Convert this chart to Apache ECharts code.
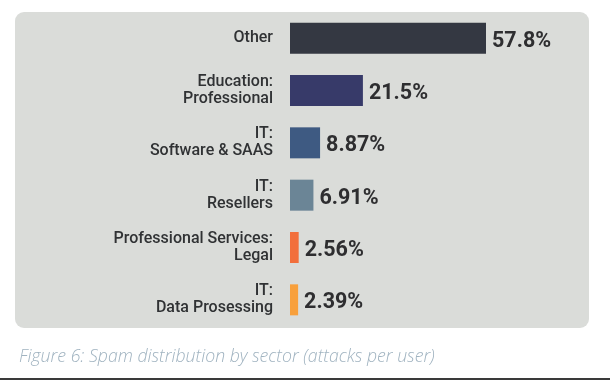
<!DOCTYPE html>
<html>
<head>
<meta charset="utf-8">
<script src="https://cdn.jsdelivr.net/npm/echarts@6/dist/echarts.min.js"></script>
<style>
html,body{margin:0;padding:0;background:#fff;}
#c{width:610px;height:380px;}
</style>
</head>
<body>
<div id="c"></div>
<script>
var categories = ["Other", "Education:\nProfessional", "IT:\nSoftware & SAAS", "IT:\nResellers", "Professional Services:\nLegal", "IT:\nData Prosessing"];
var values = [57.8, 21.5, 8.87, 6.91, 2.56, 2.39];
var valueLabels = ["57.8%", "21.5%", "8.87%", "6.91%", "2.56%", "2.39%"];
var barColors = ["#343842", "#373a69", "#3e5a82", "#6b8596", "#f26f3c", "#f8a03c"];
var caption = "Figure 6: Spam distribution by sector (attacks per user)";

var chart = echarts.init(document.getElementById('c'), null, {renderer: 'canvas'});
var data = values.map(function (v, i) {
  return {value: v, itemStyle: {color: barColors[i]}, label: {formatter: valueLabels[i]}};
});
chart.setOption({
  animation: false,
  backgroundColor: '#ffffff',
  graphic: [
    {type: 'rect', z: -10, shape: {x: 15, y: 12, width: 574, height: 316, r: 9}, style: {fill: '#dadcd9'}},
    {type: 'rect', z: -10, shape: {x: 0, y: 378, width: 610, height: 2}, style: {fill: '#3a3a3a'}}
  ],
  title: {
    text: caption,
    left: 14,
    top: 343,
    textStyle: {fontFamily: 'Open Sans', fontStyle: 'italic', fontWeight: 300, fontSize: 17.7, color: '#a0b3c0'}
  },
  grid: {left: 290, top: 12, width: 196, height: 314, containLabel: false},
  xAxis: {
    type: 'value', min: 0, max: function (v) { return v.max; },
    show: false
  },
  yAxis: {
    type: 'category', data: categories, inverse: true,
    axisLine: {show: false}, axisTick: {show: false}, splitLine: {show: false},
    axisLabel: {
      margin: 17, align: 'right', fontFamily: 'Roboto', fontWeight: 500,
      fontSize: 16, lineHeight: 17, color: '#303234', padding: [0, 0, 4, 0]
    }
  },
  series: [{
    type: 'bar', data: data, barWidth: 31,
    label: {
      show: true, position: 'right', distance: 6, offset: [0, 3],
      fontFamily: 'Roboto', fontWeight: 'bold', fontSize: 21.5, color: '#2e2e30'
    }
  }]
});
</script>
</body>
</html>
